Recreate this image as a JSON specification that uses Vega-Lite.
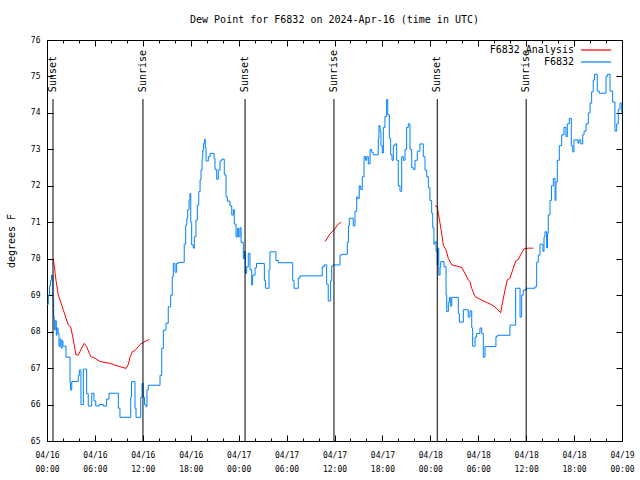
{
  "$schema": "https://vega.github.io/schema/vega-lite/v6.json",
  "width": 575,
  "height": 401,
  "autosize": "none",
  "padding": {"left": 47, "top": 40, "right": 18, "bottom": 39},
  "background": "white",
  "title": {"text": "Dew Point for F6832 on 2024-Apr-16 (time in UTC)", "font": "DejaVu Sans Mono", "fontSize": 10, "fontWeight": "normal", "color": "black", "anchor": "middle", "offset": 11},
  "config": {
    "view": {"stroke": "black", "strokeWidth": 1},
    "axis": {"domain": false, "grid": false, "tickColor": "black", "tickWidth": 1, "labelColor": "black", "labelFont": "DejaVu Sans Mono", "titleFont": "DejaVu Sans Mono", "titleColor": "black", "titleFontWeight": "normal"},
    "legend": {"labelFont": "DejaVu Sans Mono", "labelFontSize": 10, "labelColor": "black"}
  },
  "datasets": {
    "obs": [
      {"t": "2024-04-16T00:00:00Z", "v": 68.75, "s": "F6832"},
      {"t": "2024-04-16T00:10:00Z", "v": 69.0, "s": "F6832"},
      {"t": "2024-04-16T00:19:00Z", "v": 69.25, "s": "F6832"},
      {"t": "2024-04-16T00:26:00Z", "v": 69.4, "s": "F6832"},
      {"t": "2024-04-16T00:34:00Z", "v": 69.55, "s": "F6832"},
      {"t": "2024-04-16T00:45:00Z", "v": 68.9, "s": "F6832"},
      {"t": "2024-04-16T00:50:00Z", "v": 68.4, "s": "F6832"},
      {"t": "2024-04-16T00:55:00Z", "v": 68.05, "s": "F6832"},
      {"t": "2024-04-16T01:02:00Z", "v": 68.3, "s": "F6832"},
      {"t": "2024-04-16T01:10:00Z", "v": 67.9, "s": "F6832"},
      {"t": "2024-04-16T01:15:00Z", "v": 68.1, "s": "F6832"},
      {"t": "2024-04-16T01:23:00Z", "v": 67.95, "s": "F6832"},
      {"t": "2024-04-16T01:30:00Z", "v": 67.6, "s": "F6832"},
      {"t": "2024-04-16T01:38:00Z", "v": 67.8, "s": "F6832"},
      {"t": "2024-04-16T01:45:00Z", "v": 67.55, "s": "F6832"},
      {"t": "2024-04-16T01:53:00Z", "v": 67.75, "s": "F6832"},
      {"t": "2024-04-16T02:00:00Z", "v": 67.6, "s": "F6832"},
      {"t": "2024-04-16T02:23:00Z", "v": 67.3, "s": "F6832"},
      {"t": "2024-04-16T02:53:00Z", "v": 66.6, "s": "F6832"},
      {"t": "2024-04-16T02:57:00Z", "v": 66.4, "s": "F6832"},
      {"t": "2024-04-16T03:06:00Z", "v": 66.63, "s": "F6832"},
      {"t": "2024-04-16T03:55:00Z", "v": 66.8, "s": "F6832"},
      {"t": "2024-04-16T04:03:00Z", "v": 66.95, "s": "F6832"},
      {"t": "2024-04-16T04:15:00Z", "v": 66.0, "s": "F6832"},
      {"t": "2024-04-16T04:33:00Z", "v": 66.97, "s": "F6832"},
      {"t": "2024-04-16T04:58:00Z", "v": 66.3, "s": "F6832"},
      {"t": "2024-04-16T05:10:00Z", "v": 65.96, "s": "F6832"},
      {"t": "2024-04-16T05:36:00Z", "v": 66.31, "s": "F6832"},
      {"t": "2024-04-16T05:53:00Z", "v": 66.1, "s": "F6832"},
      {"t": "2024-04-16T06:06:00Z", "v": 65.96, "s": "F6832"},
      {"t": "2024-04-16T06:33:00Z", "v": 66.0, "s": "F6832"},
      {"t": "2024-04-16T07:03:00Z", "v": 65.96, "s": "F6832"},
      {"t": "2024-04-16T07:28:00Z", "v": 66.15, "s": "F6832"},
      {"t": "2024-04-16T07:46:00Z", "v": 66.31, "s": "F6832"},
      {"t": "2024-04-16T08:56:00Z", "v": 65.9, "s": "F6832"},
      {"t": "2024-04-16T09:08:00Z", "v": 65.65, "s": "F6832"},
      {"t": "2024-04-16T10:29:00Z", "v": 66.2, "s": "F6832"},
      {"t": "2024-04-16T10:35:00Z", "v": 66.63, "s": "F6832"},
      {"t": "2024-04-16T11:01:00Z", "v": 65.9, "s": "F6832"},
      {"t": "2024-04-16T11:09:00Z", "v": 65.65, "s": "F6832"},
      {"t": "2024-04-16T11:44:00Z", "v": 66.2, "s": "F6832"},
      {"t": "2024-04-16T11:54:00Z", "v": 66.58, "s": "F6832"},
      {"t": "2024-04-16T12:03:00Z", "v": 66.2, "s": "F6832"},
      {"t": "2024-04-16T12:13:00Z", "v": 66.0, "s": "F6832"},
      {"t": "2024-04-16T12:24:00Z", "v": 65.94, "s": "F6832"},
      {"t": "2024-04-16T12:31:00Z", "v": 66.4, "s": "F6832"},
      {"t": "2024-04-16T12:41:00Z", "v": 66.53, "s": "F6832"},
      {"t": "2024-04-16T14:09:00Z", "v": 66.8, "s": "F6832"},
      {"t": "2024-04-16T14:22:00Z", "v": 67.54, "s": "F6832"},
      {"t": "2024-04-16T14:34:00Z", "v": 68.04, "s": "F6832"},
      {"t": "2024-04-16T14:54:00Z", "v": 68.23, "s": "F6832"},
      {"t": "2024-04-16T15:11:00Z", "v": 68.68, "s": "F6832"},
      {"t": "2024-04-16T15:29:00Z", "v": 69.0, "s": "F6832"},
      {"t": "2024-04-16T15:41:00Z", "v": 69.5, "s": "F6832"},
      {"t": "2024-04-16T15:49:00Z", "v": 69.87, "s": "F6832"},
      {"t": "2024-04-16T16:02:00Z", "v": 69.63, "s": "F6832"},
      {"t": "2024-04-16T16:14:00Z", "v": 69.87, "s": "F6832"},
      {"t": "2024-04-16T16:26:00Z", "v": 69.9, "s": "F6832"},
      {"t": "2024-04-16T17:11:00Z", "v": 70.4, "s": "F6832"},
      {"t": "2024-04-16T17:22:00Z", "v": 70.92, "s": "F6832"},
      {"t": "2024-04-16T17:30:00Z", "v": 71.1, "s": "F6832"},
      {"t": "2024-04-16T17:37:00Z", "v": 71.34, "s": "F6832"},
      {"t": "2024-04-16T17:47:00Z", "v": 71.61, "s": "F6832"},
      {"t": "2024-04-16T17:54:00Z", "v": 71.79, "s": "F6832"},
      {"t": "2024-04-16T18:00:00Z", "v": 71.0, "s": "F6832"},
      {"t": "2024-04-16T18:07:00Z", "v": 70.38, "s": "F6832"},
      {"t": "2024-04-16T18:19:00Z", "v": 70.29, "s": "F6832"},
      {"t": "2024-04-16T18:27:00Z", "v": 70.6, "s": "F6832"},
      {"t": "2024-04-16T18:39:00Z", "v": 71.06, "s": "F6832"},
      {"t": "2024-04-16T18:49:00Z", "v": 71.47, "s": "F6832"},
      {"t": "2024-04-16T19:00:00Z", "v": 71.84, "s": "F6832"},
      {"t": "2024-04-16T19:10:00Z", "v": 72.16, "s": "F6832"},
      {"t": "2024-04-16T19:17:00Z", "v": 72.43, "s": "F6832"},
      {"t": "2024-04-16T19:25:00Z", "v": 72.74, "s": "F6832"},
      {"t": "2024-04-16T19:30:00Z", "v": 72.98, "s": "F6832"},
      {"t": "2024-04-16T19:37:00Z", "v": 73.17, "s": "F6832"},
      {"t": "2024-04-16T19:45:00Z", "v": 73.28, "s": "F6832"},
      {"t": "2024-04-16T19:49:00Z", "v": 73.05, "s": "F6832"},
      {"t": "2024-04-16T19:55:00Z", "v": 72.68, "s": "F6832"},
      {"t": "2024-04-16T20:12:00Z", "v": 72.8, "s": "F6832"},
      {"t": "2024-04-16T20:25:00Z", "v": 72.89, "s": "F6832"},
      {"t": "2024-04-16T20:55:00Z", "v": 72.75, "s": "F6832"},
      {"t": "2024-04-16T21:02:00Z", "v": 72.45, "s": "F6832"},
      {"t": "2024-04-16T21:15:00Z", "v": 72.18, "s": "F6832"},
      {"t": "2024-04-16T21:27:00Z", "v": 72.43, "s": "F6832"},
      {"t": "2024-04-16T21:40:00Z", "v": 72.68, "s": "F6832"},
      {"t": "2024-04-16T21:52:00Z", "v": 72.73, "s": "F6832"},
      {"t": "2024-04-16T22:12:00Z", "v": 72.3, "s": "F6832"},
      {"t": "2024-04-16T22:25:00Z", "v": 71.7, "s": "F6832"},
      {"t": "2024-04-16T22:35:00Z", "v": 71.58, "s": "F6832"},
      {"t": "2024-04-16T22:55:00Z", "v": 71.45, "s": "F6832"},
      {"t": "2024-04-16T23:08:00Z", "v": 71.2, "s": "F6832"},
      {"t": "2024-04-16T23:20:00Z", "v": 71.35, "s": "F6832"},
      {"t": "2024-04-16T23:27:00Z", "v": 70.95, "s": "F6832"},
      {"t": "2024-04-16T23:40:00Z", "v": 70.6, "s": "F6832"},
      {"t": "2024-04-16T23:50:00Z", "v": 70.83, "s": "F6832"},
      {"t": "2024-04-17T00:00:00Z", "v": 70.6, "s": "F6832"},
      {"t": "2024-04-17T00:10:00Z", "v": 70.85, "s": "F6832"},
      {"t": "2024-04-17T00:18:00Z", "v": 70.45, "s": "F6832"},
      {"t": "2024-04-17T00:35:00Z", "v": 70.0, "s": "F6832"},
      {"t": "2024-04-17T00:42:00Z", "v": 70.2, "s": "F6832"},
      {"t": "2024-04-17T00:50:00Z", "v": 69.6, "s": "F6832"},
      {"t": "2024-04-17T01:00:00Z", "v": 69.78, "s": "F6832"},
      {"t": "2024-04-17T01:12:00Z", "v": 70.15, "s": "F6832"},
      {"t": "2024-04-17T01:25:00Z", "v": 69.7, "s": "F6832"},
      {"t": "2024-04-17T01:38:00Z", "v": 69.28, "s": "F6832"},
      {"t": "2024-04-17T01:45:00Z", "v": 69.55, "s": "F6832"},
      {"t": "2024-04-17T02:03:00Z", "v": 69.75, "s": "F6832"},
      {"t": "2024-04-17T02:14:00Z", "v": 69.87, "s": "F6832"},
      {"t": "2024-04-17T03:13:00Z", "v": 69.4, "s": "F6832"},
      {"t": "2024-04-17T03:22:00Z", "v": 69.19, "s": "F6832"},
      {"t": "2024-04-17T03:48:00Z", "v": 69.7, "s": "F6832"},
      {"t": "2024-04-17T03:55:00Z", "v": 70.19, "s": "F6832"},
      {"t": "2024-04-17T04:40:00Z", "v": 69.95, "s": "F6832"},
      {"t": "2024-04-17T04:58:00Z", "v": 69.89, "s": "F6832"},
      {"t": "2024-04-17T06:46:00Z", "v": 69.4, "s": "F6832"},
      {"t": "2024-04-17T06:56:00Z", "v": 69.19, "s": "F6832"},
      {"t": "2024-04-17T07:28:00Z", "v": 69.47, "s": "F6832"},
      {"t": "2024-04-17T07:41:00Z", "v": 69.53, "s": "F6832"},
      {"t": "2024-04-17T10:28:00Z", "v": 69.78, "s": "F6832"},
      {"t": "2024-04-17T10:43:00Z", "v": 69.83, "s": "F6832"},
      {"t": "2024-04-17T11:01:00Z", "v": 69.3, "s": "F6832"},
      {"t": "2024-04-17T11:13:00Z", "v": 68.84, "s": "F6832"},
      {"t": "2024-04-17T11:31:00Z", "v": 69.4, "s": "F6832"},
      {"t": "2024-04-17T11:39:00Z", "v": 69.8, "s": "F6832"},
      {"t": "2024-04-17T11:51:00Z", "v": 69.83, "s": "F6832"},
      {"t": "2024-04-17T12:41:00Z", "v": 70.1, "s": "F6832"},
      {"t": "2024-04-17T12:54:00Z", "v": 70.12, "s": "F6832"},
      {"t": "2024-04-17T13:36:00Z", "v": 70.45, "s": "F6832"},
      {"t": "2024-04-17T13:45:00Z", "v": 70.9, "s": "F6832"},
      {"t": "2024-04-17T13:51:00Z", "v": 71.11, "s": "F6832"},
      {"t": "2024-04-17T14:21:00Z", "v": 70.9, "s": "F6832"},
      {"t": "2024-04-17T14:34:00Z", "v": 71.3, "s": "F6832"},
      {"t": "2024-04-17T14:47:00Z", "v": 71.7, "s": "F6832"},
      {"t": "2024-04-17T14:54:00Z", "v": 71.65, "s": "F6832"},
      {"t": "2024-04-17T15:06:00Z", "v": 72.0, "s": "F6832"},
      {"t": "2024-04-17T15:17:00Z", "v": 71.9, "s": "F6832"},
      {"t": "2024-04-17T15:29:00Z", "v": 72.25, "s": "F6832"},
      {"t": "2024-04-17T15:42:00Z", "v": 72.8, "s": "F6832"},
      {"t": "2024-04-17T15:54:00Z", "v": 72.7, "s": "F6832"},
      {"t": "2024-04-17T16:02:00Z", "v": 72.8, "s": "F6832"},
      {"t": "2024-04-17T16:14:00Z", "v": 72.6, "s": "F6832"},
      {"t": "2024-04-17T16:27:00Z", "v": 73.0, "s": "F6832"},
      {"t": "2024-04-17T16:39:00Z", "v": 72.92, "s": "F6832"},
      {"t": "2024-04-17T16:51:00Z", "v": 72.85, "s": "F6832"},
      {"t": "2024-04-17T17:29:00Z", "v": 73.3, "s": "F6832"},
      {"t": "2024-04-17T17:34:00Z", "v": 73.65, "s": "F6832"},
      {"t": "2024-04-17T17:42:00Z", "v": 73.5, "s": "F6832"},
      {"t": "2024-04-17T17:49:00Z", "v": 73.1, "s": "F6832"},
      {"t": "2024-04-17T17:59:00Z", "v": 72.9, "s": "F6832"},
      {"t": "2024-04-17T18:07:00Z", "v": 73.6, "s": "F6832"},
      {"t": "2024-04-17T18:19:00Z", "v": 73.9, "s": "F6832"},
      {"t": "2024-04-17T18:32:00Z", "v": 74.37, "s": "F6832"},
      {"t": "2024-04-17T18:40:00Z", "v": 73.95, "s": "F6832"},
      {"t": "2024-04-17T18:52:00Z", "v": 73.3, "s": "F6832"},
      {"t": "2024-04-17T19:02:00Z", "v": 72.85, "s": "F6832"},
      {"t": "2024-04-17T19:12:00Z", "v": 72.7, "s": "F6832"},
      {"t": "2024-04-17T19:22:00Z", "v": 73.1, "s": "F6832"},
      {"t": "2024-04-17T19:34:00Z", "v": 73.15, "s": "F6832"},
      {"t": "2024-04-17T19:47:00Z", "v": 72.7, "s": "F6832"},
      {"t": "2024-04-17T19:59:00Z", "v": 72.0, "s": "F6832"},
      {"t": "2024-04-17T20:12:00Z", "v": 71.85, "s": "F6832"},
      {"t": "2024-04-17T20:25:00Z", "v": 72.8, "s": "F6832"},
      {"t": "2024-04-17T20:37:00Z", "v": 72.7, "s": "F6832"},
      {"t": "2024-04-17T20:50:00Z", "v": 73.0, "s": "F6832"},
      {"t": "2024-04-17T21:02:00Z", "v": 73.6, "s": "F6832"},
      {"t": "2024-04-17T21:14:00Z", "v": 73.7, "s": "F6832"},
      {"t": "2024-04-17T21:27:00Z", "v": 73.0, "s": "F6832"},
      {"t": "2024-04-17T21:40:00Z", "v": 72.5, "s": "F6832"},
      {"t": "2024-04-17T21:52:00Z", "v": 72.45, "s": "F6832"},
      {"t": "2024-04-17T22:05:00Z", "v": 72.7, "s": "F6832"},
      {"t": "2024-04-17T22:22:00Z", "v": 72.95, "s": "F6832"},
      {"t": "2024-04-17T22:42:00Z", "v": 73.15, "s": "F6832"},
      {"t": "2024-04-17T23:07:00Z", "v": 72.8, "s": "F6832"},
      {"t": "2024-04-17T23:20:00Z", "v": 72.43, "s": "F6832"},
      {"t": "2024-04-17T23:33:00Z", "v": 72.25, "s": "F6832"},
      {"t": "2024-04-17T23:45:00Z", "v": 71.95, "s": "F6832"},
      {"t": "2024-04-17T23:57:00Z", "v": 71.6, "s": "F6832"},
      {"t": "2024-04-18T00:10:00Z", "v": 71.25, "s": "F6832"},
      {"t": "2024-04-18T00:18:00Z", "v": 70.85, "s": "F6832"},
      {"t": "2024-04-18T00:27:00Z", "v": 70.4, "s": "F6832"},
      {"t": "2024-04-18T00:35:00Z", "v": 70.47, "s": "F6832"},
      {"t": "2024-04-18T00:43:00Z", "v": 70.2, "s": "F6832"},
      {"t": "2024-04-18T00:52:00Z", "v": 69.83, "s": "F6832"},
      {"t": "2024-04-18T00:58:00Z", "v": 70.29, "s": "F6832"},
      {"t": "2024-04-18T01:03:00Z", "v": 69.55, "s": "F6832"},
      {"t": "2024-04-18T01:13:00Z", "v": 69.78, "s": "F6832"},
      {"t": "2024-04-18T01:18:00Z", "v": 69.92, "s": "F6832"},
      {"t": "2024-04-18T01:43:00Z", "v": 69.78, "s": "F6832"},
      {"t": "2024-04-18T01:58:00Z", "v": 69.0, "s": "F6832"},
      {"t": "2024-04-18T02:03:00Z", "v": 68.55, "s": "F6832"},
      {"t": "2024-04-18T02:15:00Z", "v": 68.8, "s": "F6832"},
      {"t": "2024-04-18T02:23:00Z", "v": 68.94, "s": "F6832"},
      {"t": "2024-04-18T02:33:00Z", "v": 68.7, "s": "F6832"},
      {"t": "2024-04-18T02:41:00Z", "v": 68.94, "s": "F6832"},
      {"t": "2024-04-18T03:30:00Z", "v": 68.5, "s": "F6832"},
      {"t": "2024-04-18T03:38:00Z", "v": 68.26, "s": "F6832"},
      {"t": "2024-04-18T04:08:00Z", "v": 68.6, "s": "F6832"},
      {"t": "2024-04-18T04:45:00Z", "v": 68.4, "s": "F6832"},
      {"t": "2024-04-18T04:58:00Z", "v": 68.57, "s": "F6832"},
      {"t": "2024-04-18T05:11:00Z", "v": 68.1, "s": "F6832"},
      {"t": "2024-04-18T05:18:00Z", "v": 67.6, "s": "F6832"},
      {"t": "2024-04-18T05:36:00Z", "v": 67.85, "s": "F6832"},
      {"t": "2024-04-18T05:48:00Z", "v": 67.95, "s": "F6832"},
      {"t": "2024-04-18T06:13:00Z", "v": 68.1, "s": "F6832"},
      {"t": "2024-04-18T06:26:00Z", "v": 67.95, "s": "F6832"},
      {"t": "2024-04-18T06:38:00Z", "v": 67.3, "s": "F6832"},
      {"t": "2024-04-18T06:51:00Z", "v": 67.59, "s": "F6832"},
      {"t": "2024-04-18T08:13:00Z", "v": 67.86, "s": "F6832"},
      {"t": "2024-04-18T08:23:00Z", "v": 67.9, "s": "F6832"},
      {"t": "2024-04-18T09:58:00Z", "v": 68.18, "s": "F6832"},
      {"t": "2024-04-18T10:41:00Z", "v": 69.19, "s": "F6832"},
      {"t": "2024-04-18T11:14:00Z", "v": 68.4, "s": "F6832"},
      {"t": "2024-04-18T11:26:00Z", "v": 69.0, "s": "F6832"},
      {"t": "2024-04-18T11:38:00Z", "v": 69.14, "s": "F6832"},
      {"t": "2024-04-18T11:59:00Z", "v": 69.19, "s": "F6832"},
      {"t": "2024-04-18T13:06:00Z", "v": 69.23, "s": "F6832"},
      {"t": "2024-04-18T13:19:00Z", "v": 69.9, "s": "F6832"},
      {"t": "2024-04-18T13:31:00Z", "v": 70.1, "s": "F6832"},
      {"t": "2024-04-18T13:44:00Z", "v": 70.4, "s": "F6832"},
      {"t": "2024-04-18T14:06:00Z", "v": 70.2, "s": "F6832"},
      {"t": "2024-04-18T14:14:00Z", "v": 70.6, "s": "F6832"},
      {"t": "2024-04-18T14:21:00Z", "v": 70.74, "s": "F6832"},
      {"t": "2024-04-18T14:34:00Z", "v": 70.3, "s": "F6832"},
      {"t": "2024-04-18T14:40:00Z", "v": 70.7, "s": "F6832"},
      {"t": "2024-04-18T14:46:00Z", "v": 71.2, "s": "F6832"},
      {"t": "2024-04-18T14:59:00Z", "v": 71.6, "s": "F6832"},
      {"t": "2024-04-18T15:10:00Z", "v": 72.0, "s": "F6832"},
      {"t": "2024-04-18T15:24:00Z", "v": 72.2, "s": "F6832"},
      {"t": "2024-04-18T15:37:00Z", "v": 71.6, "s": "F6832"},
      {"t": "2024-04-18T15:44:00Z", "v": 72.1, "s": "F6832"},
      {"t": "2024-04-18T15:54:00Z", "v": 72.7, "s": "F6832"},
      {"t": "2024-04-18T16:09:00Z", "v": 73.1, "s": "F6832"},
      {"t": "2024-04-18T16:27:00Z", "v": 73.4, "s": "F6832"},
      {"t": "2024-04-18T16:44:00Z", "v": 73.6, "s": "F6832"},
      {"t": "2024-04-18T16:59:00Z", "v": 73.35, "s": "F6832"},
      {"t": "2024-04-18T17:09:00Z", "v": 73.7, "s": "F6832"},
      {"t": "2024-04-18T17:24:00Z", "v": 73.85, "s": "F6832"},
      {"t": "2024-04-18T17:39:00Z", "v": 73.1, "s": "F6832"},
      {"t": "2024-04-18T17:50:00Z", "v": 72.93, "s": "F6832"},
      {"t": "2024-04-18T17:59:00Z", "v": 73.26, "s": "F6832"},
      {"t": "2024-04-18T18:29:00Z", "v": 73.17, "s": "F6832"},
      {"t": "2024-04-18T18:37:00Z", "v": 73.26, "s": "F6832"},
      {"t": "2024-04-18T18:50:00Z", "v": 73.15, "s": "F6832"},
      {"t": "2024-04-18T19:05:00Z", "v": 73.4, "s": "F6832"},
      {"t": "2024-04-18T19:15:00Z", "v": 73.5, "s": "F6832"},
      {"t": "2024-04-18T19:30:00Z", "v": 73.7, "s": "F6832"},
      {"t": "2024-04-18T19:47:00Z", "v": 74.0, "s": "F6832"},
      {"t": "2024-04-18T20:00:00Z", "v": 74.27, "s": "F6832"},
      {"t": "2024-04-18T20:12:00Z", "v": 74.58, "s": "F6832"},
      {"t": "2024-04-18T20:24:00Z", "v": 74.9, "s": "F6832"},
      {"t": "2024-04-18T20:33:00Z", "v": 75.06, "s": "F6832"},
      {"t": "2024-04-18T20:54:00Z", "v": 74.6, "s": "F6832"},
      {"t": "2024-04-18T21:09:00Z", "v": 74.54, "s": "F6832"},
      {"t": "2024-04-18T22:00:00Z", "v": 75.0, "s": "F6832"},
      {"t": "2024-04-18T22:10:00Z", "v": 75.06, "s": "F6832"},
      {"t": "2024-04-18T22:30:00Z", "v": 74.6, "s": "F6832"},
      {"t": "2024-04-18T22:50:00Z", "v": 74.3, "s": "F6832"},
      {"t": "2024-04-18T23:07:00Z", "v": 73.5, "s": "F6832"},
      {"t": "2024-04-18T23:20:00Z", "v": 73.7, "s": "F6832"},
      {"t": "2024-04-18T23:32:00Z", "v": 74.1, "s": "F6832"},
      {"t": "2024-04-18T23:45:00Z", "v": 74.27, "s": "F6832"},
      {"t": "2024-04-18T23:58:00Z", "v": 74.0, "s": "F6832"}
    ],
    "ana": [
      {"t": "2024-04-16T00:47:00Z", "v": 70.0, "s": "F6832 Analysis", "g": 1},
      {"t": "2024-04-16T00:56:00Z", "v": 69.75, "s": "F6832 Analysis", "g": 1},
      {"t": "2024-04-16T01:08:00Z", "v": 69.4, "s": "F6832 Analysis", "g": 1},
      {"t": "2024-04-16T01:25:00Z", "v": 69.0, "s": "F6832 Analysis", "g": 1},
      {"t": "2024-04-16T01:38:00Z", "v": 68.87, "s": "F6832 Analysis", "g": 1},
      {"t": "2024-04-16T02:02:00Z", "v": 68.6, "s": "F6832 Analysis", "g": 1},
      {"t": "2024-04-16T02:23:00Z", "v": 68.37, "s": "F6832 Analysis", "g": 1},
      {"t": "2024-04-16T02:40:00Z", "v": 68.18, "s": "F6832 Analysis", "g": 1},
      {"t": "2024-04-16T02:58:00Z", "v": 68.13, "s": "F6832 Analysis", "g": 1},
      {"t": "2024-04-16T03:18:00Z", "v": 67.77, "s": "F6832 Analysis", "g": 1},
      {"t": "2024-04-16T03:38:00Z", "v": 67.36, "s": "F6832 Analysis", "g": 1},
      {"t": "2024-04-16T03:55:00Z", "v": 67.36, "s": "F6832 Analysis", "g": 1},
      {"t": "2024-04-16T04:21:00Z", "v": 67.55, "s": "F6832 Analysis", "g": 1},
      {"t": "2024-04-16T04:40:00Z", "v": 67.68, "s": "F6832 Analysis", "g": 1},
      {"t": "2024-04-16T04:58:00Z", "v": 67.59, "s": "F6832 Analysis", "g": 1},
      {"t": "2024-04-16T05:18:00Z", "v": 67.4, "s": "F6832 Analysis", "g": 1},
      {"t": "2024-04-16T05:31:00Z", "v": 67.31, "s": "F6832 Analysis", "g": 1},
      {"t": "2024-04-16T06:01:00Z", "v": 67.27, "s": "F6832 Analysis", "g": 1},
      {"t": "2024-04-16T06:38:00Z", "v": 67.18, "s": "F6832 Analysis", "g": 1},
      {"t": "2024-04-16T07:53:00Z", "v": 67.13, "s": "F6832 Analysis", "g": 1},
      {"t": "2024-04-16T08:31:00Z", "v": 67.08, "s": "F6832 Analysis", "g": 1},
      {"t": "2024-04-16T09:08:00Z", "v": 67.04, "s": "F6832 Analysis", "g": 1},
      {"t": "2024-04-16T09:54:00Z", "v": 66.99, "s": "F6832 Analysis", "g": 1},
      {"t": "2024-04-16T10:11:00Z", "v": 67.1, "s": "F6832 Analysis", "g": 1},
      {"t": "2024-04-16T10:24:00Z", "v": 67.3, "s": "F6832 Analysis", "g": 1},
      {"t": "2024-04-16T10:41:00Z", "v": 67.45, "s": "F6832 Analysis", "g": 1},
      {"t": "2024-04-16T11:01:00Z", "v": 67.48, "s": "F6832 Analysis", "g": 1},
      {"t": "2024-04-16T11:39:00Z", "v": 67.65, "s": "F6832 Analysis", "g": 1},
      {"t": "2024-04-16T12:03:00Z", "v": 67.7, "s": "F6832 Analysis", "g": 1},
      {"t": "2024-04-16T12:49:00Z", "v": 67.79, "s": "F6832 Analysis", "g": 1},
      {"t": "2024-04-17T10:49:00Z", "v": 70.47, "s": "F6832 Analysis", "g": 2},
      {"t": "2024-04-17T11:26:00Z", "v": 70.68, "s": "F6832 Analysis", "g": 2},
      {"t": "2024-04-17T11:56:00Z", "v": 70.79, "s": "F6832 Analysis", "g": 2},
      {"t": "2024-04-17T12:28:00Z", "v": 70.95, "s": "F6832 Analysis", "g": 2},
      {"t": "2024-04-17T12:49:00Z", "v": 71.0, "s": "F6832 Analysis", "g": 2},
      {"t": "2024-04-18T00:35:00Z", "v": 71.45, "s": "F6832 Analysis", "g": 3},
      {"t": "2024-04-18T00:52:00Z", "v": 71.43, "s": "F6832 Analysis", "g": 3},
      {"t": "2024-04-18T01:00:00Z", "v": 71.25, "s": "F6832 Analysis", "g": 3},
      {"t": "2024-04-18T01:13:00Z", "v": 70.97, "s": "F6832 Analysis", "g": 3},
      {"t": "2024-04-18T01:25:00Z", "v": 70.7, "s": "F6832 Analysis", "g": 3},
      {"t": "2024-04-18T01:37:00Z", "v": 70.38, "s": "F6832 Analysis", "g": 3},
      {"t": "2024-04-18T01:58:00Z", "v": 70.24, "s": "F6832 Analysis", "g": 3},
      {"t": "2024-04-18T02:15:00Z", "v": 70.01, "s": "F6832 Analysis", "g": 3},
      {"t": "2024-04-18T02:41:00Z", "v": 69.83, "s": "F6832 Analysis", "g": 3},
      {"t": "2024-04-18T03:18:00Z", "v": 69.8, "s": "F6832 Analysis", "g": 3},
      {"t": "2024-04-18T03:56:00Z", "v": 69.76, "s": "F6832 Analysis", "g": 3},
      {"t": "2024-04-18T04:20:00Z", "v": 69.6, "s": "F6832 Analysis", "g": 3},
      {"t": "2024-04-18T04:45:00Z", "v": 69.42, "s": "F6832 Analysis", "g": 3},
      {"t": "2024-04-18T04:58:00Z", "v": 69.37, "s": "F6832 Analysis", "g": 3},
      {"t": "2024-04-18T05:11:00Z", "v": 69.19, "s": "F6832 Analysis", "g": 3},
      {"t": "2024-04-18T05:36:00Z", "v": 68.96, "s": "F6832 Analysis", "g": 3},
      {"t": "2024-04-18T06:13:00Z", "v": 68.89, "s": "F6832 Analysis", "g": 3},
      {"t": "2024-04-18T06:51:00Z", "v": 68.82, "s": "F6832 Analysis", "g": 3},
      {"t": "2024-04-18T07:28:00Z", "v": 68.76, "s": "F6832 Analysis", "g": 3},
      {"t": "2024-04-18T07:58:00Z", "v": 68.7, "s": "F6832 Analysis", "g": 3},
      {"t": "2024-04-18T08:23:00Z", "v": 68.61, "s": "F6832 Analysis", "g": 3},
      {"t": "2024-04-18T08:49:00Z", "v": 68.52, "s": "F6832 Analysis", "g": 3},
      {"t": "2024-04-18T09:01:00Z", "v": 68.78, "s": "F6832 Analysis", "g": 3},
      {"t": "2024-04-18T09:21:00Z", "v": 69.14, "s": "F6832 Analysis", "g": 3},
      {"t": "2024-04-18T09:38:00Z", "v": 69.42, "s": "F6832 Analysis", "g": 3},
      {"t": "2024-04-18T09:58:00Z", "v": 69.46, "s": "F6832 Analysis", "g": 3},
      {"t": "2024-04-18T10:23:00Z", "v": 69.74, "s": "F6832 Analysis", "g": 3},
      {"t": "2024-04-18T10:44:00Z", "v": 69.95, "s": "F6832 Analysis", "g": 3},
      {"t": "2024-04-18T11:01:00Z", "v": 69.98, "s": "F6832 Analysis", "g": 3},
      {"t": "2024-04-18T11:26:00Z", "v": 70.16, "s": "F6832 Analysis", "g": 3},
      {"t": "2024-04-18T11:44:00Z", "v": 70.27, "s": "F6832 Analysis", "g": 3},
      {"t": "2024-04-18T12:16:00Z", "v": 70.29, "s": "F6832 Analysis", "g": 3},
      {"t": "2024-04-18T12:54:00Z", "v": 70.29, "s": "F6832 Analysis", "g": 3}
    ],
    "sun": [
      {"t": "2024-04-16T00:45:00Z", "label": "Sunset"},
      {"t": "2024-04-16T12:01:00Z", "label": "Sunrise"},
      {"t": "2024-04-17T00:48:00Z", "label": "Sunset"},
      {"t": "2024-04-17T11:56:00Z", "label": "Sunrise"},
      {"t": "2024-04-18T00:52:00Z", "label": "Sunset"},
      {"t": "2024-04-18T12:00:00Z", "label": "Sunrise"}
    ]
  },
  "layer": [
    {
      "data": {"name": "obs"},
      "mark": {"type": "line", "interpolate": "step-after", "strokeWidth": 1},
      "encoding": {
        "x": {"field": "t", "type": "temporal",
          "scale": {"type": "utc", "domain": [1713225600000, 1713484800000], "nice": false},
          "axis": {"orient": "bottom", "title": null, "values": [1713225600000, 1713247200000, 1713268800000, 1713290400000, 1713312000000, 1713333600000, 1713355200000, 1713376800000, 1713398400000, 1713420000000, 1713441600000, 1713463200000, 1713484800000], "tickSize": -6, "labelExpr": "[utcFormat(datum.value, '%m/%d'), utcFormat(datum.value, '%H:%M')]", "labelFontSize": 8, "labelLineHeight": 14, "labelPadding": 16, "labelFlush": false, "labelOverlap": false}},
        "y": {"field": "v", "type": "quantitative",
          "scale": {"domain": [65, 76], "nice": false, "zero": false},
          "axis": {"orient": "left", "title": "degrees F", "titleFontSize": 10, "titlePadding": 14, "values": [65, 66, 67, 68, 69, 70, 71, 72, 73, 74, 75, 76], "tickSize": -6, "labelFontSize": 8, "labelPadding": 13}},
        "color": {"field": "s", "type": "nominal",
          "scale": {"domain": ["F6832 Analysis", "F6832"], "range": ["#ff0000", "#0080ff"]},
          "legend": {"title": null, "orient": "none", "legendX": 543, "legendY": 4, "symbolType": "M-3,0H3", "symbolSize": 100, "symbolStrokeWidth": 1.2, "labelAlign": "right", "labelOffset": -28, "rowPadding": 1}}
      }
    },
    {
      "data": {"name": "ana"},
      "mark": {"type": "line", "strokeWidth": 1},
      "encoding": {
        "x": {"field": "t", "type": "temporal", "scale": {"type": "utc"},
          "axis": {"orient": "bottom", "title": null, "labels": false, "tickSize": -3, "values": [1713225600000, 1713232800000, 1713240000000, 1713247200000, 1713254400000, 1713261600000, 1713268800000, 1713276000000, 1713283200000, 1713290400000, 1713297600000, 1713304800000, 1713312000000, 1713319200000, 1713326400000, 1713333600000, 1713340800000, 1713348000000, 1713355200000, 1713362400000, 1713369600000, 1713376800000, 1713384000000, 1713391200000, 1713398400000, 1713405600000, 1713412800000, 1713420000000, 1713427200000, 1713434400000, 1713441600000, 1713448800000, 1713456000000, 1713463200000, 1713470400000, 1713477600000, 1713484800000]}},
        "y": {"field": "v", "type": "quantitative",
          "axis": {"orient": "right", "title": null, "labels": false, "tickSize": -6, "values": [65, 66, 67, 68, 69, 70, 71, 72, 73, 74, 75, 76]}},
        "color": {"field": "s", "type": "nominal"},
        "detail": {"field": "g", "type": "nominal"}
      }
    },
    {
      "data": {"name": "sun"},
      "mark": {"type": "rule", "color": "black", "strokeWidth": 1},
      "encoding": {
        "x": {"field": "t", "type": "temporal", "scale": {"type": "utc"},
          "axis": {"orient": "top", "title": null, "labels": false, "tickSize": -6, "values": [1713225600000, 1713247200000, 1713268800000, 1713290400000, 1713312000000, 1713333600000, 1713355200000, 1713376800000, 1713398400000, 1713420000000, 1713441600000, 1713463200000, 1713484800000]}},
        "y": {"datum": 74.38, "type": "quantitative", "axis": null},
        "y2": {"datum": 65}
      }
    },
    {
      "data": {"name": "sun"},
      "mark": {"type": "text", "angle": 270, "align": "left", "baseline": "middle", "font": "DejaVu Sans Mono", "fontSize": 10, "color": "black"},
      "encoding": {
        "x": {"field": "t", "type": "temporal", "scale": {"type": "utc"},
          "axis": {"orient": "top", "title": null, "labels": false, "tickSize": -3, "values": [1713225600000, 1713232800000, 1713240000000, 1713247200000, 1713254400000, 1713261600000, 1713268800000, 1713276000000, 1713283200000, 1713290400000, 1713297600000, 1713304800000, 1713312000000, 1713319200000, 1713326400000, 1713333600000, 1713340800000, 1713348000000, 1713355200000, 1713362400000, 1713369600000, 1713376800000, 1713384000000, 1713391200000, 1713398400000, 1713405600000, 1713412800000, 1713420000000, 1713427200000, 1713434400000, 1713441600000, 1713448800000, 1713456000000, 1713463200000, 1713470400000, 1713477600000, 1713484800000]}},
        "y": {"datum": 74.57, "type": "quantitative", "axis": null},
        "text": {"field": "label"}
      }
    }
  ],
  "resolve": {"axis": {"x": "independent", "y": "independent"}}
}
